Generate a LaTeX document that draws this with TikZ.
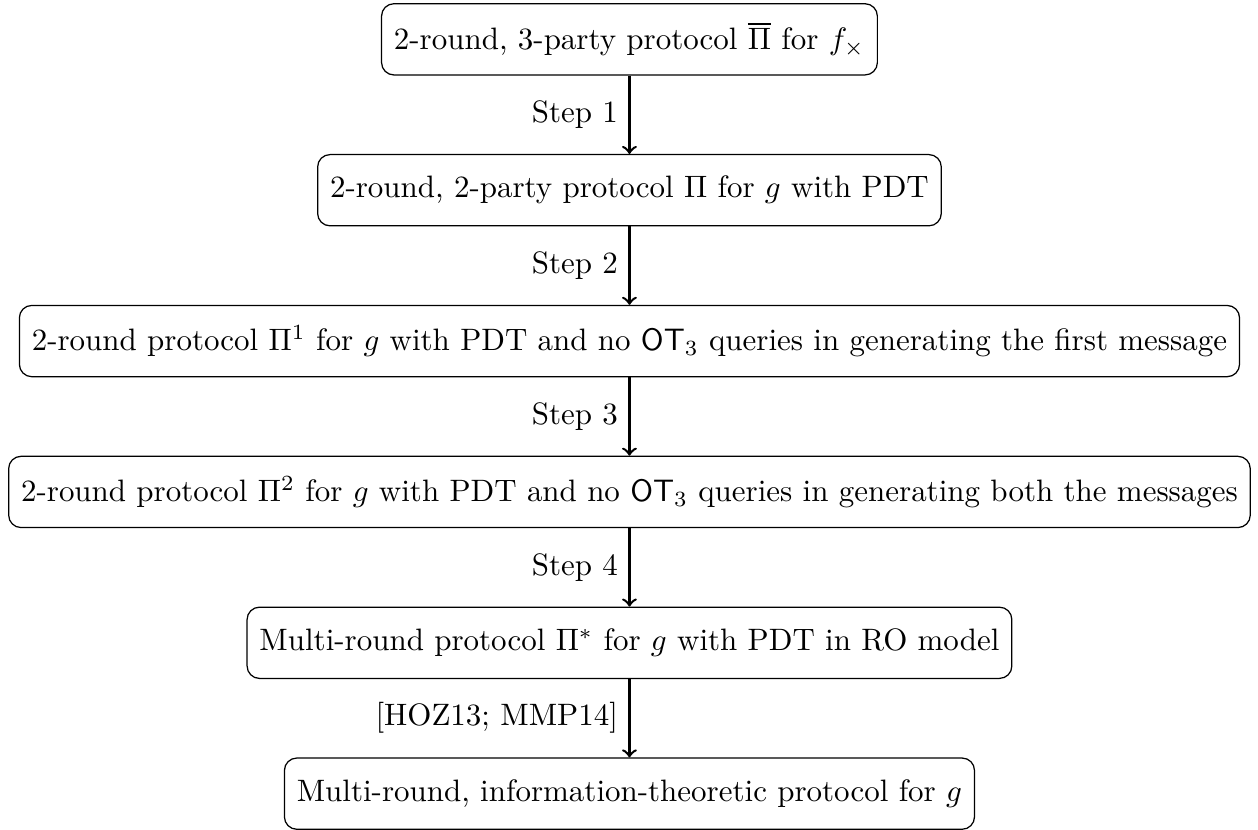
\documentclass[tikz,border=0pt]{standalone}
\usepackage{amsmath}
\usetikzlibrary{shapes, arrows}
\tikzstyle{block} = [rectangle, rounded corners, minimum height=2.3em, draw=black, inner sep=0.4em]
\tikzstyle{arrow} = [thick,->]

\begin{document}
\begin{tikzpicture}[node distance=4.87em, auto]
        % blocks
        \node [block] (threeparty) {2-round, 3-party protocol $\overline{\Pi}$ for $f_{\times}$};
        \node [block, below of=threeparty] (twoparty) {2-round, 2-party protocol $\Pi$ for $g$ with PDT};
        \node [block, below of=twoparty] (firstmsg) {2-round protocol $\Pi^1$ for $g$ with PDT and no $\mathsf{OT}_3$ queries in generating the first message};
        \node [block, below of=firstmsg] (bothmsg) {2-round protocol $\Pi^2$ for $g$ with PDT and no $\mathsf{OT}_3$ queries in generating both the messages};
        \node [block, below of=bothmsg] (romodel) {Multi-round protocol $\Pi^{*}$ for $g$ with PDT in RO model};
        \node [block, below of=romodel] (itprot) {Multi-round, information-theoretic protocol for $g$};

        % arrows
        \draw [arrow] (threeparty) -- node [swap] {Step 1} (twoparty);
        \draw [arrow] (twoparty) -- node [swap] {Step 2} (firstmsg);
        \draw [arrow] (firstmsg) -- node [swap] {Step 3} (bothmsg);
        \draw [arrow] (bothmsg) -- node [swap] {Step 4} (romodel);
        \draw [arrow] (romodel) -- node [swap] {[HOZ13; MMP14]} (itprot);

        % margins
        \path ([xshift=-2.6pt,yshift=1pt]bothmsg.west |- threeparty.north) rectangle ([xshift=2.3pt]bothmsg.east |- itprot.south);
    \end{tikzpicture}
\end{document}
